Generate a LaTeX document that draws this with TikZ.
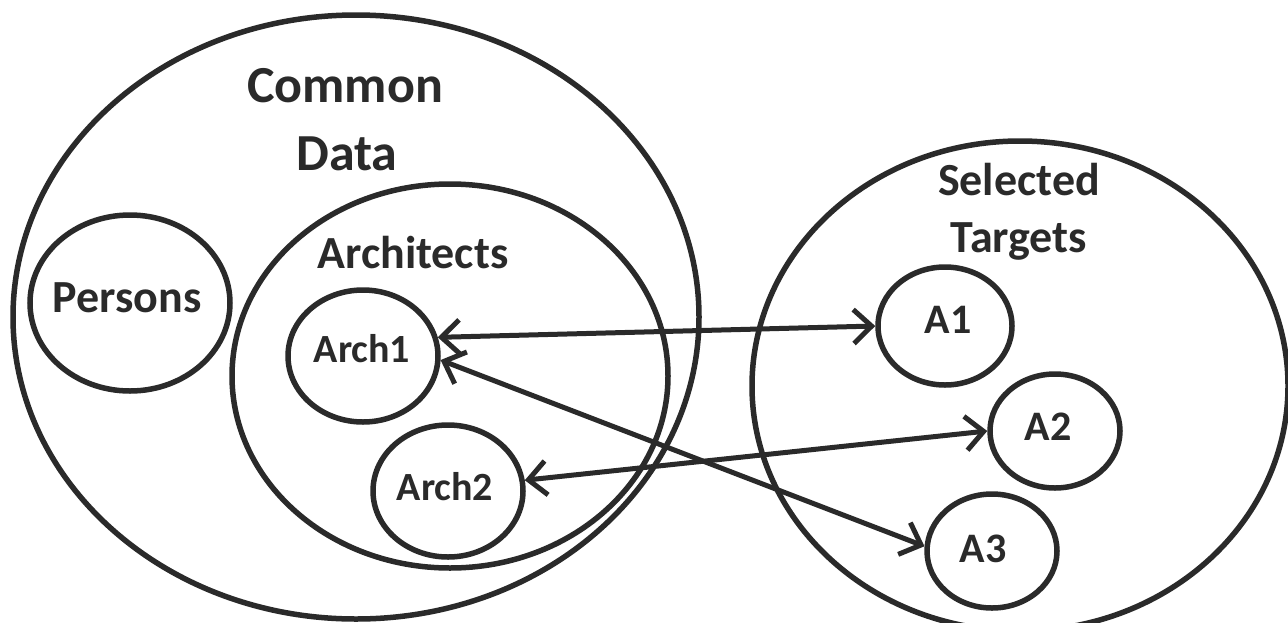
\documentclass[tikz,border=0pt]{standalone}
\usepackage{fontspec}
\setmainfont{Carlito}
\usetikzlibrary{shapes.geometric,arrows.meta}
\definecolor{ink}{HTML}{2A2A2A}
\tikzset{
  ring/.style={draw=ink, line width=5.5pt, ellipse, inner sep=0pt},
  lbl/.style={text=ink, anchor=base, inner sep=0pt, font=\fontsize{#1}{#1}\selectfont\bfseries},
  lbl/.default=46,
  link/.style={draw=ink, line width=5pt, {Straight Barb[length=18pt,width=34pt]}-{Straight Barb[length=18pt,width=34pt]}}
}
\begin{document}
\begin{tikzpicture}[x=1pt,y=-1pt]
\fill[white] (0,0) rectangle (1288,622);
\useasboundingbox (0,0) rectangle (1288,622);
% containers
\node[ring, minimum width=686pt, minimum height=604pt] (common) at (356,317) {};
\node[ring, minimum width=436pt, minimum height=384pt] (archs) at (450,376) {};
\node[ring, minimum width=536pt, minimum height=490pt] (targets) at (1020,386) {};
% inner sets
\node[ring, minimum width=200pt, minimum height=176pt] (persons) at (130,303) {};
\node[ring, minimum width=150pt, minimum height=132pt] (arch1) at (363,356) {};
\node[ring, minimum width=150pt, minimum height=132pt] (arch2) at (448,491) {};
\node[ring, minimum width=134pt, minimum height=118pt] (a1) at (945,326) {};
\node[ring, minimum width=130pt, minimum height=114pt] (a2) at (1055,431) {};
\node[ring, minimum width=130pt, minimum height=114pt] (a3) at (992,551) {};
% labels
\node[lbl=52] (tcommon) at (345,102) {Common};
\node[lbl=52] (tdata) at (347,170) {Data};
\node[lbl] (tarch) at (413,268) {Architects};
\node[lbl] (tsel) at (1019,195) {Selected};
\node[lbl] (ttar) at (1019,252) {Targets};
\node[lbl] (tpersons) at (127,312) {Persons};
\node[lbl=40] (tarch1) at (362,362) {Arch1};
\node[lbl=40] (tarch2) at (445,500) {Arch2};
\node[lbl=42] (ta1) at (948,333) {A1};
\node[lbl=42] (ta2) at (1048,440) {A2};
\node[lbl=42] (ta3) at (983,562) {A3};
% connectors
\draw[link] (arch1.14) -- (a1.180);
\draw[link] (arch1.-3) -- (a3.176);
\draw[link] (arch2.8) -- (a2.180);
\end{tikzpicture}
\end{document}
